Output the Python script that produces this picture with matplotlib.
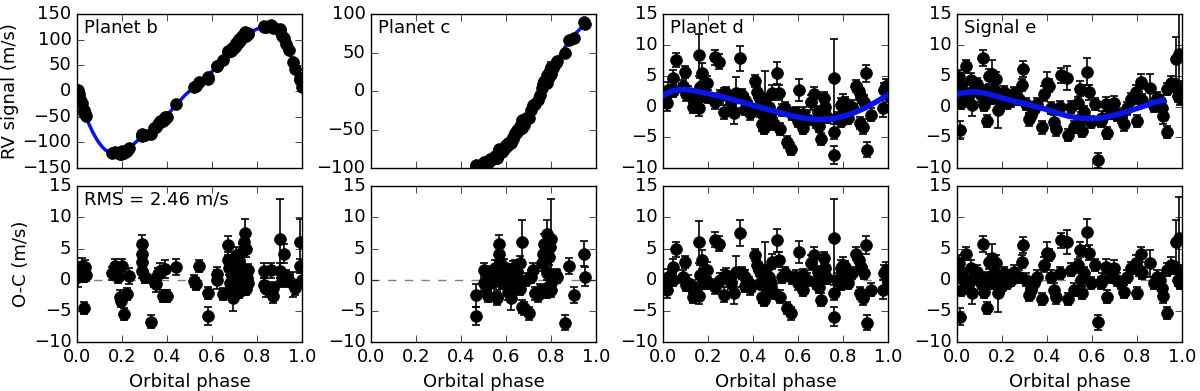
import numpy as np
import matplotlib
matplotlib.use('Agg')
import matplotlib.pyplot as plt

plt.style.use('classic')
plt.rcParams['font.size'] = 13
plt.rcParams['figure.facecolor'] = 'white'
plt.rcParams['savefig.facecolor'] = 'white'

# ---- planet b ----
phase_b = [0.005,0.01,0.015,0.02,0.03,0.03,0.035,0.04,
           0.155,0.17,0.18,0.19,0.195,0.20,0.21,0.22,0.23,
           0.29,0.29,0.29,0.29,0.30,
           0.33,0.34,0.35,0.36,0.37,0.38,0.39,0.39,0.40,
           0.44,0.52,0.53,0.54,0.58,0.58,0.62,0.62,0.65,
           0.67,0.67,0.675,0.68,0.685,0.69,0.695,0.70,0.70,0.705,0.71,0.71,0.715,
           0.72,0.72,0.725,0.73,0.73,0.735,0.74,0.745,0.75,0.75,0.755,0.76,0.76,
           0.83,0.83,0.84,0.86,0.87,0.87,
           0.90,0.90,0.91,0.92,0.93,0.94,0.96,0.97,0.99,0.99,1.0]
rv_b = [1.7,-5.8,-15.4,-22.8,-42,-36.9,-41.8,-49.2,
        -120,-119,-120,-122.5,-122.8,-116.8,-121.5,-115.8,-110.2,
        -83.3,-84.9,-86.2,-87.6,-85.6,
        -83,-72.7,-69.5,-64.1,-59.1,-58.6,-49.8,-54.1,-49.6,
        -24.9,7.8,10.8,17.2,27.9,24.2,48.9,48,60.7,
        78.5,76.2,77.3,77.5,79,83.8,82.5,85.8,90.5,94.5,92,93.3,96.7,
        96,101,100.4,100.7,103.5,107.8,111,114.3,113.5,107,110.5,113.5,111.5,
        126.9,124.7,125.5,127.8,123.4,124.7,
        121.6,116.4,107.1,103.9,92.6,80.1,56.3,43.2,26,22.2,8]
oc_b = [0.4,1.7,0.6,2.2,-4.5,0.6,2.0,0.8,
        1.0,2.2,0.4,-2.7,-3.4,2.2,-5.5,-2.3,0.6,
        5.7,4.1,2.8,1.4,0.4,
        -6.7,-0.2,-0.7,0.9,1.4,-2.6,1.7,-2.6,-2.6,
        2.1,-0.2,-0.7,2.2,-2.1,-5.8,0.9,0.0,-2.3,
        5.5,3.2,1.8,-0.5,-1.5,0.8,-3.0,-2.2,2.5,4.0,-1.0,0.3,1.2,
        -2.0,3.0,0.6,-0.8,2.0,4.5,6.0,7.5,5.0,-1.5,0.2,1.5,-0.5,
        1.4,-0.8,-1.5,1.5,-2.6,-1.3,
        6.6,1.4,-0.2,4.2,0.6,-0.2,-0.7,-1.3,6.0,2.2,0.0]
err_b = [1.5,1.2,1.0,1.3,1.0,1.0,1.2,1.0,
         1.0,1.2,1.0,1.0,1.0,1.2,1.0,1.0,1.3,
         1.4,1.2,1.2,1.2,1.0,
         1.0,1.0,1.2,1.0,1.2,1.0,1.5,1.0,1.0,
         1.3,1.0,1.0,1.0,1.0,1.5,1.2,1.5,1.0,
         1.5,1.2,1.0,1.0,1.0,1.0,2.0,1.0,1.3,1.3,1.0,1.0,1.0,
         1.0,1.2,1.0,1.0,1.2,1.3,1.5,2.2,1.3,1.0,1.0,1.0,1.0,
         1.2,1.0,1.2,1.2,1.2,1.0,
         6.3,1.2,1.0,1.5,1.0,1.0,2.0,1.2,3.8,1.2,1.0]
curve_phase_b = [0,0.01,0.02,0.03,0.04,0.055,0.07,0.085,0.10,0.115,0.13,0.145,0.16,0.20,0.24,0.28,
                 0.32,0.36,0.40,0.44,0.48,0.52,0.56,0.60,0.64,0.68,0.72,0.76,0.80,0.84,
                 0.87,0.90,0.93,0.96,0.98,1.0]
curve_b = [10,-8,-25,-38,-50,-66,-80,-92,-102,-110,-116,-120,-122,-119,-108,-92,
           -80,-65,-47,-27,-8,8,22,38,58,78,98,112,121,127,
           126,115,92,57,32,8]

# ---- planet c ----
phase_c = [0.466,0.466,0.50,0.50,0.51,0.52,0.53,0.54,0.55,0.55,
           0.56,0.56,0.57,0.57,0.57,0.575,0.58,0.58,0.585,0.59,
           0.59,0.60,0.60,0.61,0.61,0.615,0.62,0.62,0.62,0.63,
           0.63,0.64,0.64,0.645,0.65,0.65,0.66,0.66,0.67,0.67,
           0.68,0.69,0.70,0.71,0.72,0.73,0.74,0.75,0.76,0.765,
           0.77,0.78,0.78,0.78,0.79,0.79,0.795,0.80,0.80,0.81,
           0.82,0.825,0.86,0.88,0.90,0.945,0.95]
rv_c = [-96,-99,-91.5,-93.6,-92.9,-93.1,-88.3,-88.4,-84,-85.5,
        -86.5,-86.2,-75.5,-77.1,-80.3,-77.1,-77.7,-79.5,-76.8,-73.4,
        -74.7,-72,-70.5,-67.5,-70.5,-67.4,-68,-66.7,-64.2,-59,
        -61.8,-56,-54.5,-54.6,-51,-52.8,-45.4,-49.5,-37.4,-47.8,
        -43.6,-34.5,-35.4,-24.3,-18,-16.5,-11.5,-5.2,4.6,9,
        13.3,20.4,14,11,22.5,17.8,26.9,31.1,22.8,30.3,
        36.7,39,49.1,66.2,69.5,89.2,86.5]
oc_c = [-2.5,-5.8,1.5,-0.6,-1.1,-2.6,1.0,-0.4,1.8,0.3,
        -3.0,-2.7,5.8,4.2,1.0,2.9,1.3,-0.5,0.5,2.1,
        0.8,0.0,1.5,1.0,-2.0,-0.6,-3.0,-1.7,0.8,1.8,
        -1.0,0.5,2.0,-0.3,1.3,-0.5,2.6,-1.5,6.1,-4.3,
        -4.6,0.0,-5.4,0.5,1.5,-2.2,-2.5,-1.7,2.6,4.2,
        5.8,7.4,1.0,-2.0,3.7,-1.0,5.3,6.6,-1.7,0.0,
        0.7,0.5,-6.9,2.2,-2.5,4.2,0.5]
err_c = [1.8,1.5,1.2,1.2,1.0,1.0,1.2,1.0,1.3,1.0,
         1.0,1.0,1.3,1.3,1.0,1.2,1.0,1.0,1.0,1.2,
         1.0,1.0,1.0,1.0,1.2,1.0,1.8,1.0,1.0,1.2,
         1.0,1.0,1.2,1.0,1.0,1.0,1.2,1.0,3.4,1.0,
         1.0,1.0,1.0,1.0,1.2,1.0,1.0,1.0,1.2,1.3,
         1.5,2.2,1.0,1.0,1.3,1.0,1.5,6.4,1.0,1.0,
         1.0,1.0,1.2,1.3,1.3,2.0,1.5]
curve_phase_c = [0.46,0.50,0.54,0.58,0.62,0.66,0.70,0.74,0.78,0.82,0.86,0.90,0.94,0.95]
curve_c = [-95,-93,-88,-79,-65,-48,-30,-9,13,36,56,72,84,86]

# ---- planet d ----
phase_d = [0.009,0.016,0.024,0.043,0.046,0.058,0.09,0.098,0.1,0.113,
           0.128,0.135,0.147,0.158,0.162,0.165,0.173,0.18,0.195,0.2,
           0.232,0.232,0.247,0.254,0.27,0.27,0.28,0.3,0.314,0.326,
           0.34,0.35,0.365,0.366,0.38,0.388,0.41,0.418,0.426,0.433,
           0.44,0.448,0.45,0.455,0.463,0.47,0.47,0.478,0.485,0.493,
           0.505,0.515,0.52,0.53,0.54,0.552,0.57,0.575,0.59,0.6,
           0.604,0.62,0.624,0.64,0.656,0.67,0.678,0.69,0.693,0.7,
           0.715,0.72,0.73,0.76,0.76,0.76,0.775,0.79,0.79,0.798,
           0.805,0.81,0.82,0.842,0.857,0.872,0.876,0.88,0.887,0.894,
           0.9,0.906,0.924,0.976,0.984,0.99,0.998]
rv_d = [1.45,0.5,2.7,2.5,4.65,7.55,3.3,5.55,1.95,2.2,
        1.55,-0.1,0.9,-0.2,8.4,3.15,5.5,1.75,3.75,1.6,
        0.75,8.0,7.3,1.65,2.0,-0.9,2.2,0.7,-1.05,2.25,
        7.8,1.8,-0.45,1.05,-0.1,-1.0,4.1,2.4,1.55,-0.65,
        -2.9,-3.5,0.9,1.25,-2.05,0.0,-1.5,-1.1,2.25,-2.85,
        5.45,2.25,-3.7,-0.6,-0.2,-5.8,-6.85,-1.2,-1.1,-2.3,
        2.7,-1.15,-3.45,-1.95,0.7,1.95,-2.55,-0.9,-3.2,-5.3,
        1.4,-0.15,-1.75,4.7,-4.1,-7.9,-1.9,0.2,-2.4,0.8,
        -0.75,0.5,-1.9,0.0,3.3,2.55,-2.7,1.6,-3.3,0.8,
        5.4,-7.0,-1.3,-0.25,2.65,3.3,1.9]
oc_d = [-0.5,-1.6,0.5,0.0,2.1,4.9,0.5,2.8,-0.8,-0.5,
        -1.1,-2.7,-1.6,-2.6,6.0,0.8,3.2,-0.5,1.6,-0.5,
        -1.1,6.4,5.8,0.0,0.5,-2.4,0.8,-0.5,-2.1,1.3,
        7.5,1.1,-1.0,0.5,-0.5,-1.3,4.0,2.4,1.6,-0.5,
        -2.7,-3.2,1.2,1.6,-1.6,0.5,-1.0,-0.5,2.9,-2.1,
        6.3,3.2,-2.7,0.5,1.0,-4.5,-5.4,0.3,0.5,-0.6,
        4.4,0.7,-1.6,0.0,2.7,4.0,-0.5,1.2,-1.1,-3.2,
        3.5,1.9,0.3,6.7,-2.1,-5.9,0.0,1.9,-0.7,2.4,
        0.8,2.0,-0.5,1.1,4.2,3.2,-2.1,2.1,-2.9,1.1,
        5.6,-6.9,-1.6,-1.6,1.1,1.6,0.0]
err_d = [1.2,1.3,1.2,1.0,1.2,1.2,1.0,1.0,1.0,1.2,
         1.0,1.0,1.2,1.3,3.4,1.5,1.5,1.0,1.2,1.0,
         1.2,1.2,1.2,1.0,1.0,1.2,1.0,1.0,1.8,2.5,
         2.1,1.0,1.0,1.0,1.0,1.2,1.0,1.0,1.0,1.0,
         1.0,1.0,1.0,4.5,1.0,1.0,1.0,1.0,1.2,1.0,
         1.8,1.2,1.0,1.0,1.0,1.0,1.0,1.0,1.0,1.0,
         1.8,1.0,1.0,1.0,1.2,1.2,1.0,1.0,1.0,1.0,
         1.0,1.0,1.0,6.3,1.2,1.5,1.0,1.2,1.0,1.2,
         1.0,1.0,1.0,1.0,1.0,1.0,1.0,1.0,1.2,1.0,
         1.4,1.2,1.0,1.5,1.2,1.2,1.2]
curve_phase_d = [0,0.04,0.08,0.12,0.16,0.2,0.25,0.3,0.35,0.4,0.45,
                 0.5,0.55,0.6,0.65,0.7,0.75,0.8,0.85,0.9,0.95,1.0]
curve_d = [1.8,2.5,2.8,2.7,2.4,2.1,1.7,1.2,0.7,0.2,-0.3,
           -0.8,-1.3,-1.7,-2.0,-2.1,-2.0,-1.6,-1.0,-0.2,0.8,1.9]

# ---- signal e ----
phase_e = [0.009,0.013,0.016,0.019,0.031,0.039,0.053,0.061,0.068,0.076,
           0.09,0.105,0.117,0.12,0.127,0.132,0.142,0.15,0.157,0.164,
           0.172,0.18,0.187,0.194,0.209,0.224,0.239,0.253,0.276,0.29,
           0.295,0.305,0.32,0.327,0.342,0.357,0.379,0.387,0.401,0.409,
           0.416,0.431,0.438,0.458,0.464,0.49,0.494,0.505,0.52,0.538,
           0.547,0.55,0.557,0.564,0.579,0.587,0.594,0.612,0.627,0.638,
           0.646,0.66,0.668,0.683,0.698,0.713,0.728,0.742,0.757,0.772,
           0.794,0.801,0.809,0.816,0.824,0.858,0.876,0.89,0.902,0.913,
           0.916,0.932,0.935,0.95,0.964,0.972,0.98,0.986,0.99,0.994]
rv_e = [4.8,-3.8,0.55,3.45,2.25,6.5,1.85,4.25,0.3,2.9,
        3.65,1.8,7.9,0.3,2.45,-2.4,4.9,1.4,5.35,2.85,
        4.4,-0.5,1.5,0.35,2.4,0.65,1.0,2.15,1.2,3.5,
        6.15,0.45,-2.1,-1.35,-0.4,0.45,-3.4,2.05,3.8,3.4,
        -0.2,-2.45,-3.65,-0.1,5.05,4.6,-4.65,-0.05,-3.3,0.6,
        2.9,-1.9,-4.0,-0.85,5.65,2.3,-2.5,0.4,-8.75,-2.35,
        -1.8,0.4,-4.35,-1.05,0.5,-1.3,-1.6,-2.9,-0.3,1.25,
        2.35,-2.4,1.4,4.0,1.1,3.0,0.15,1.3,0.9,-0.3,
        -1.6,-4.1,2.8,3.8,3.4,7.7,1.7,8.45,1.3,2.9]
oc_e = [2.7,-5.9,-1.6,1.3,0.0,4.2,-0.5,1.9,-2.1,0.5,
        1.3,-0.5,5.7,-1.9,0.3,-4.5,2.9,-0.5,3.5,1.1,
        2.7,-2.1,0.0,-1.1,1.1,-0.5,0.0,1.3,0.5,2.9,
        5.6,0.0,-2.4,-1.6,-0.5,0.5,-3.1,2.4,4.3,4.0,
        0.5,-1.6,-2.7,1.1,6.3,6.1,-3.1,1.6,-1.6,2.4,
        4.8,0.0,-2.1,1.1,7.6,4.3,-0.5,2.4,-6.8,-0.5,
        0.0,2.1,-2.7,0.5,1.9,0.0,-0.5,-1.9,0.5,1.9,
        2.7,-2.1,1.6,4.1,1.1,2.6,-0.5,0.5,0.0,-1.3,
        -2.6,-5.3,1.6,2.4,1.9,6.1,0.0,6.7,-0.5,1.1]
err_e = [1.2,1.4,1.0,1.2,1.0,1.0,1.0,1.2,1.8,1.0,
         1.0,1.0,1.3,1.0,1.0,1.0,1.2,1.0,2.2,1.2,
         1.2,3.0,1.0,1.0,1.0,1.0,1.0,1.0,1.0,1.0,
         1.3,1.0,1.0,1.0,1.0,1.0,1.0,1.2,1.8,1.0,
         1.0,1.0,1.2,1.0,1.2,1.9,1.0,1.0,1.0,1.0,
         1.2,1.0,1.0,1.0,2.2,1.2,1.0,1.0,1.2,1.0,
         1.0,1.2,1.0,1.0,1.2,1.0,1.0,1.0,1.0,1.0,
         1.2,1.0,1.0,1.2,1.0,2.2,1.0,1.0,1.0,1.0,
         1.2,1.0,1.0,1.2,1.0,3.5,1.0,6.5,1.0,1.2]
curve_phase_e = [0,0.04,0.08,0.12,0.16,0.2,0.25,0.3,0.35,0.4,0.45,
                 0.5,0.55,0.6,0.65,0.7,0.75,0.8,0.85,0.88,0.915]
curve_e = [2.0,2.3,2.4,2.2,1.8,1.4,0.9,0.5,0.0,-0.5,-1.1,
           -1.6,-1.9,-2.0,-1.8,-1.4,-0.9,-0.3,0.3,0.7,1.0]

columns = [
  ('Planet b', phase_b, rv_b, oc_b, err_b, curve_phase_b, curve_b, (-150, 150), np.arange(-150, 151, 50), 2.5, 1),
  ('Planet c', phase_c, rv_c, oc_c, err_c, curve_phase_c, curve_c, (-100, 100), np.arange(-100, 101, 50), 2.5, 1),
  ('Planet d', phase_d, rv_d, oc_d, err_d, curve_phase_d, curve_d, (-10, 15), np.arange(-10, 16, 5), 4, 5),
  ('Signal e', phase_e, rv_e, oc_e, err_e, curve_phase_e, curve_e, (-10, 15), np.arange(-10, 16, 5), 4, 5),
]

lefts = [77, 371, 663, 957]
fig = plt.figure(figsize=(12, 3.91), dpi=100)

def style_axes(ax):
  ax.tick_params(direction='in', top=True, right=True, length=5, labelsize=13, pad=4)
  ax.set_xlim(0, 1)
  ax.set_xticks(np.arange(0, 1.01, 0.2))

for i, (name, ph, rv, oc, err, cph, cv, ylim, yt, lw, cz) in enumerate(columns):
  x0 = lefts[i] / 1200.
  ax = fig.add_axes([x0, 0.570, 225/1200., 0.394])
  ax1 = fig.add_axes([x0, 0.125, 225/1200., 0.399])

  ax.errorbar(ph, rv, yerr=err, fmt='o', color='k', ecolor='k', ms=8.5, mec='k',
              capsize=3, elinewidth=1.2, capthick=1.2, zorder=2)
  ax.plot(cph, cv, '-', color='#0a14e6', lw=lw, zorder=cz)
  style_axes(ax)
  ax.set_ylim(*ylim)
  ax.set_yticks(yt)
  ax.set_xticklabels([])
  ax.text(0.03, 0.97, name, transform=ax.transAxes, va='top', ha='left', fontsize=13)

  ax1.axhline(0, color='gray', ls='--', lw=1, zorder=1)
  ax1.errorbar(ph, oc, yerr=err, fmt='o', color='k', ecolor='k', ms=8.5, mec='k',
               capsize=3, elinewidth=1.2, capthick=1.2, zorder=2)
  style_axes(ax1)
  ax1.set_ylim(-10, 15)
  ax1.set_yticks(np.arange(-10, 16, 5))
  ax1.set_xlabel('Orbital phase', fontsize=13)

  if i == 0:
    ax.set_ylabel('RV signal (m/s)', fontsize=13, labelpad=2)
    ax1.set_ylabel('O-C (m/s)', fontsize=13, labelpad=3)
    ax1.text(0.03, 0.97, 'RMS = 2.46 m/s', transform=ax1.transAxes, va='top', ha='left', fontsize=13)

fig.savefig('out.png', dpi=100)
